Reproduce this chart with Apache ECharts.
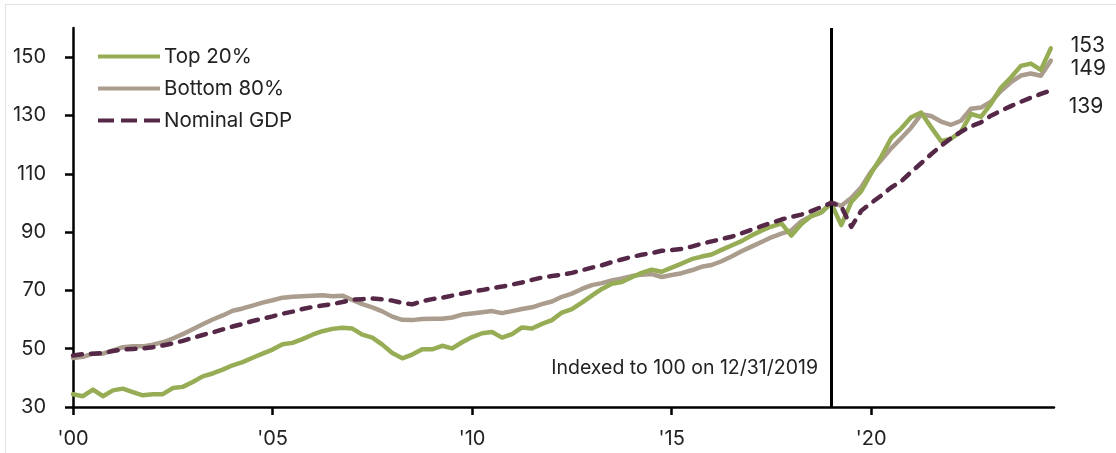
<!DOCTYPE html>
<html>
<head>
<meta charset="utf-8">
<script src="https://cdn.jsdelivr.net/npm/echarts@6/dist/echarts.min.js"></script>
<style>
  html, body { margin: 0; padding: 0; background: #fff; }
  #chart { width: 1116px; height: 453px; }
</style>
</head>
<body>
<div id="chart"></div>
<script>
// Quarterly observations, 2000 Q1 through 2024 Q3, indexed to 100 at end of 2019
const startYear = 2000;
const stepYears = 0.25;

const top20 = [
  34.4, 33.7, 36.0, 33.7, 35.7, 36.3, 35.1, 34.0, 34.4, 34.4,
  36.5, 36.9, 38.6, 40.5, 41.5, 42.8, 44.3, 45.4, 46.9, 48.3,
  49.7, 51.5, 52.0, 53.3, 54.8, 56.0, 56.8, 57.2, 56.9, 54.8,
  53.8, 51.4, 48.5, 46.7, 48.0, 49.8, 49.8, 51.0, 50.1, 52.2,
  54.0, 55.3, 55.7, 53.8, 55.0, 57.3, 56.9, 58.5, 59.8, 62.4,
  63.6, 65.8, 68.2, 70.5, 72.3, 72.9, 74.5, 76.0, 77.1, 76.4,
  77.8, 79.2, 80.7, 81.6, 82.3, 83.9, 85.4, 86.9, 88.8, 90.5,
  91.9, 93.0, 88.8, 92.8, 95.5, 96.8, 99.8, 92.4, 100.3, 104.0,
  110.2, 115.8, 122.2, 125.5, 129.4, 131.0, 126.0, 121.2, 122.0, 124.5,
  130.5, 129.5, 134.0, 139.5, 143.0, 147.0, 147.8, 145.6, 153.0
];

const bottom80 = [
  46.8, 47.2, 48.3, 48.3, 49.4, 50.5, 50.8, 50.8, 51.4, 52.2,
  53.5, 55.0, 56.7, 58.4, 60.0, 61.4, 63.0, 63.8, 64.8, 65.8,
  66.6, 67.5, 67.8, 68.0, 68.2, 68.3, 68.0, 68.2, 66.7, 65.3,
  64.2, 62.8, 61.0, 59.9, 59.8, 60.2, 60.3, 60.3, 60.7, 61.7,
  62.1, 62.5, 62.9, 62.2, 62.9, 63.6, 64.2, 65.3, 66.2, 67.8,
  68.9, 70.5, 71.8, 72.5, 73.4, 74.1, 74.9, 75.4, 75.6, 74.6,
  75.3, 75.9, 76.9, 78.1, 78.7, 80.0, 81.6, 83.4, 85.0, 86.6,
  88.2, 89.5, 90.6, 93.7, 95.5, 96.7, 100.3, 99.0, 101.7, 105.4,
  110.8, 114.7, 118.7, 122.2, 125.8, 130.4, 129.8, 127.9, 126.8, 128.2,
  132.3, 132.7, 134.7, 138.4, 141.4, 143.7, 144.4, 143.6, 148.8
];

const nominalGdp = [
  47.7, 48.1, 48.3, 48.5, 49.2, 49.7, 49.9, 50.1, 50.5, 51.1,
  51.8, 52.7, 53.7, 54.7, 55.6, 56.6, 57.6, 58.5, 59.5, 60.3,
  61.1, 62.0, 62.7, 63.6, 64.3, 64.8, 65.3, 66.0, 66.8, 67.0,
  67.2, 66.9, 66.5, 65.7, 65.2, 66.3, 67.0, 67.5, 68.2, 68.9,
  69.6, 70.1, 70.8, 71.3, 72.0, 72.7, 73.6, 74.4, 74.9, 75.4,
  76.0, 76.9, 77.8, 78.6, 79.7, 80.6, 81.5, 82.2, 82.8, 83.6,
  83.8, 84.2, 85.0, 86.0, 86.8, 87.6, 88.4, 89.6, 90.8, 92.0,
  93.2, 94.3, 95.2, 96.0, 97.2, 98.6, 100.0, 98.8, 91.8, 97.3,
  100.0, 102.5, 105.3, 107.4, 110.6, 113.6, 116.7, 119.6, 122.2, 124.4,
  126.3, 127.6, 129.9, 131.6, 133.2, 134.7, 136.1, 137.4, 138.6
];

const yTicks = [30, 50, 70, 90, 110, 130, 150];
const xTicks = [2000, 2005, 2010, 2015, 2020];
const indexDate = 2019;
const noteText = 'Indexed to 100 on 12/31/2019';

const seriesNames = ['Top 20%', 'Bottom 80%', 'Nominal GDP'];

const colors = {
  top: '#97ad55',
  bottom: '#ab9d8e',
  gdp: '#552847'
};

// Legend keys: a solid bar for the two income groups, three dashes for GDP
const solidKey = 'path://M0,0H62V4H0Z';
const dashedKey = 'path://M0,0H16V4H0Z M23,0H39V4H23Z M46,0H62V4H46Z';

function toPairs(values) {
  return values.map((v, i) => [startYear + i * stepYears, v]);
}

const fontFamily = 'Inter, "Noto Sans", sans-serif';
const textColor = '#222';

const endLabel = (dx, dy) => ({
  show: true,
  offset: [dx, dy],
  fontSize: 21,
  color: textColor,
  fontFamily: fontFamily,
  formatter: p => String(Math.round(p.value[1]))
});

const chart = echarts.init(document.getElementById('chart'), null, { renderer: 'canvas' });

chart.setOption({
  animation: false,
  backgroundColor: '#fff',
  textStyle: { fontFamily: fontFamily },
  grid: { left: 73, right: 62, top: 28, bottom: 46, containLabel: false },
  legend: {
    orient: 'vertical',
    left: 93,
    top: 41,
    itemWidth: 62,
    itemHeight: 4,
    itemGap: 11,
    textStyle: { fontSize: 20.5, color: textColor, fontFamily: fontFamily, padding: [0, 0, 0, -1] },
    data: [
      { name: seriesNames[0], icon: solidKey },
      { name: seriesNames[1], icon: solidKey },
      { name: seriesNames[2], icon: dashedKey }
    ]
  },
  xAxis: {
    type: 'value',
    min: 2000,
    max: 2024.58,
    interval: 5,
    splitLine: { show: false },
    axisLine: { show: true, lineStyle: { color: '#000', width: 2.5 } },
    axisTick: { show: true, length: 8, lineStyle: { color: '#000', width: 2.5 }, customValues: xTicks },
    axisLabel: {
      customValues: xTicks,
      margin: 22,
      fontSize: 20,
      color: textColor,
      fontFamily: fontFamily,
      formatter: v => "'" + String(Math.round(v) % 100).padStart(2, '0')
    }
  },
  yAxis: {
    type: 'value',
    min: 30,
    max: 160,
    splitLine: { show: false },
    axisLine: { show: true, lineStyle: { color: '#000', width: 2.5 } },
    axisTick: { show: true, length: 8, lineStyle: { color: '#000', width: 2.5 }, customValues: yTicks },
    axisLabel: {
      customValues: yTicks,
      margin: 27,
      fontSize: 20,
      color: textColor,
      fontFamily: fontFamily
    }
  },
  series: [
    {
      name: seriesNames[0],
      type: 'line',
      data: toPairs(top20),
      symbol: 'none',
      z: 4,
      lineStyle: { color: colors.top, width: 4.5, cap: 'round', join: 'round' },
      itemStyle: { color: colors.top, borderColor: colors.top },
      endLabel: endLabel(12, -3),
      markLine: {
        silent: true,
        symbol: 'none',
        label: { show: false },
        lineStyle: { color: '#000', width: 3, type: 'solid' },
        data: [{ xAxis: indexDate }]
      }
    },
    {
      name: seriesNames[1],
      type: 'line',
      data: toPairs(bottom80),
      symbol: 'none',
      z: 3,
      lineStyle: { color: colors.bottom, width: 4.5, cap: 'round', join: 'round' },
      itemStyle: { color: colors.bottom, borderColor: colors.bottom },
      endLabel: endLabel(12, 8)
    },
    {
      name: seriesNames[2],
      type: 'line',
      data: toPairs(nominalGdp),
      symbol: 'none',
      z: 5,
      lineStyle: { color: colors.gdp, width: 4.5, type: [9, 9], cap: 'round', join: 'round' },
      itemStyle: { color: colors.gdp, borderColor: colors.gdp },
      endLabel: endLabel(10, 16)
    }
  ],
  graphic: [
    {
      type: 'line',
      silent: true,
      shape: { x1: 5, y1: 4.5, x2: 1116, y2: 4.5 },
      style: { stroke: '#e2e2e2', lineWidth: 1 }
    },
    {
      type: 'line',
      silent: true,
      shape: { x1: 5.5, y1: 4, x2: 5.5, y2: 453 },
      style: { stroke: '#e2e2e2', lineWidth: 1 }
    },
    {
      type: 'text',
      silent: true,
      right: 298,
      top: 358,
      style: {
        text: noteText,
        fontSize: 19.5,
        fill: textColor,
        fontFamily: fontFamily
      }
    }
  ]
});
</script>
</body>
</html>
